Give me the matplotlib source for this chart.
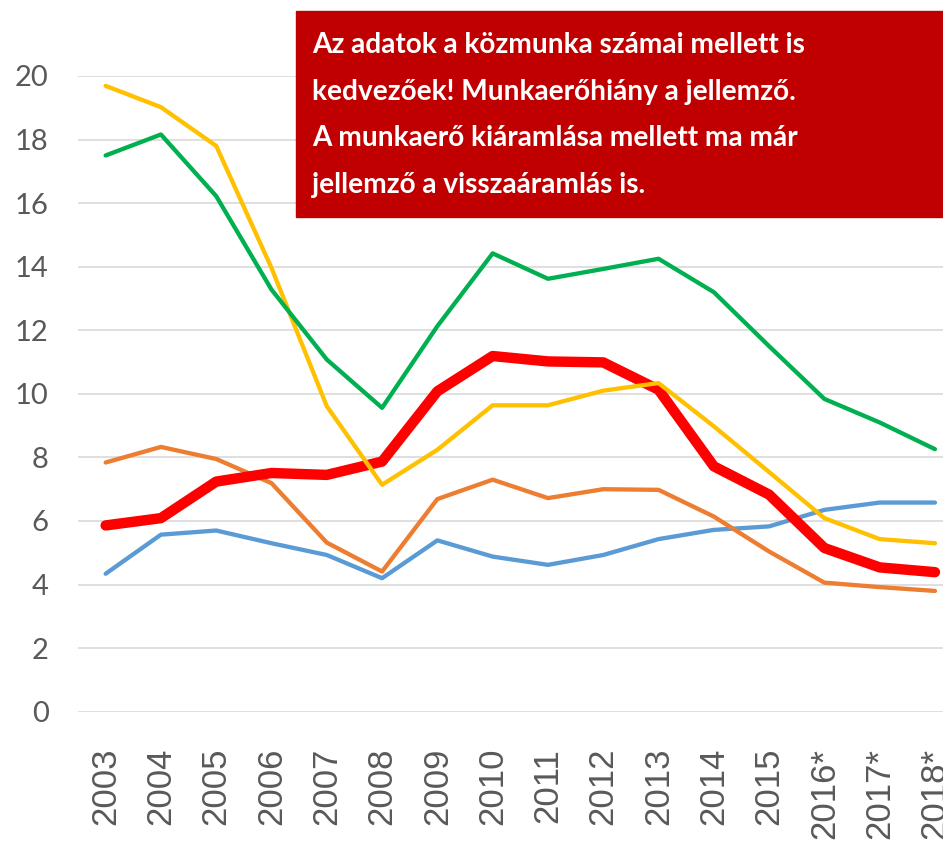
import matplotlib.pyplot as plt
from matplotlib.patches import Rectangle

# years on the x axis
years = ['2003', '2004', '2005', '2006', '2007', '2008', '2009', '2010',
         '2011', '2012', '2013', '2014', '2015', '2016*', '2017*', '2018*']

# series values
blue = [4.34, 5.57, 5.70, 5.30, 4.93, 4.20, 5.39, 4.88,
        4.62, 4.93, 5.43, 5.72, 5.83, 6.35, 6.58, 6.58]
orange = [7.84, 8.33, 7.95, 7.19, 5.32, 4.41, 6.69, 7.30,
          6.72, 7.00, 6.98, 6.14, 5.04, 4.06, 3.92, 3.80]
red = [5.86, 6.09, 7.24, 7.51, 7.45, 7.87, 10.08, 11.19,
       11.02, 10.99, 10.13, 7.72, 6.83, 5.15, 4.54, 4.39]
yellow = [19.69, 19.02, 17.80, 13.96, 9.61, 7.14, 8.24, 9.64,
          9.64, 10.10, 10.34, 8.98, 7.54, 6.09, 5.43, 5.30]
green = [17.50, 18.16, 16.22, 13.28, 11.08, 9.56, 12.13, 14.42,
         13.62, 13.93, 14.25, 13.20, 11.50, 9.84, 9.10, 8.26]

box_lines = ['Az adatok a közmunka számai mellett is',
             'kedvezőek! Munkaerőhiány a jellemző.',
             'A munkaerő kiáramlása mellett ma már',
             'jellemző a visszaáramlás is.']

W, H = 943, 842
fig = plt.figure(figsize=(W / 100, H / 100), dpi=100)
ax = fig.add_axes([78 / W, 1 - 711.7 / H, 884.6 / W, 635.7 / H])

x = list(range(len(years)))
ax.plot(x, blue, color='#5B9BD5', lw=3.1, solid_capstyle='round', solid_joinstyle='round', clip_on=False)
ax.plot(x, orange, color='#ED7D31', lw=3.1, solid_capstyle='round', solid_joinstyle='round', clip_on=False)
ax.plot(x, red, color='#FF0000', lw=7.5, solid_capstyle='round', solid_joinstyle='round', clip_on=False)
ax.plot(x, yellow, color='#FFC000', lw=3.1, solid_capstyle='round', solid_joinstyle='round', clip_on=False)
ax.plot(x, green, color='#00B050', lw=3.1, solid_capstyle='round', solid_joinstyle='round', clip_on=False)

ax.set_xlim(-0.5, len(years) - 0.5)
ax.set_ylim(0, 20)
ax.set_yticks(range(0, 21, 2))
ax.set_xticks(x)
ax.set_xticklabels(years, rotation=90, fontsize=25, color='#595959',
                   family='Liberation Sans', va='top', ha='center')
ax.set_yticklabels([str(v) for v in range(0, 21, 2)], fontsize=21, color='#595959',
                   family='Lato')
ax.tick_params(axis='x', length=0, pad=26)
ax.tick_params(axis='y', length=0, pad=21)
ax.grid(axis='y', color='#D9D9D9', lw=1.2)
ax.set_axisbelow(True)
for s in ax.spines.values():
    s.set_visible(False)

# red comment box in the top right corner
fig.patches.append(Rectangle((296 / W, 1 - 217 / H), (W - 296) / W, 206 / H,
                             transform=fig.transFigure, color='#C00000', zorder=5))
baselines = [53.3, 99.8, 146.4, 193]
for line, yb in zip(box_lines, baselines):
    fig.text(311.7 / W, 1 - yb / H, line, color='white', fontsize=20.2,
             fontweight='bold', family='Lato', va='baseline', ha='left', zorder=6)

fig.savefig('out.png', dpi=100)
